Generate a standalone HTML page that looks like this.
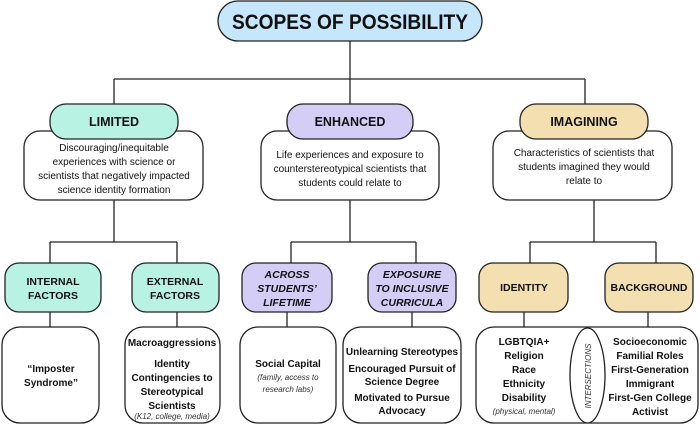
<!DOCTYPE html>
<html><head><meta charset="utf-8"><style>
html,body{margin:0;padding:0;background:#fff;}
svg{display:block;}
.b{font-family:"Liberation Sans",sans-serif;font-weight:bold;fill:#111;text-anchor:middle;}
.n{font-family:"Liberation Sans",sans-serif;fill:#111;text-anchor:middle;}
.nb{font-family:"Liberation Sans",sans-serif;font-weight:bold;fill:#111;text-anchor:middle;}
.i{font-family:"Liberation Sans",sans-serif;font-style:italic;fill:#333;text-anchor:middle;font-size:8px;}
</style></head><body>
<svg width="700" height="426" viewBox="0 0 700 426" xmlns="http://www.w3.org/2000/svg">
<g stroke="#222" stroke-width="1.3" fill="none">
<path d="M350 41V79M114 79H585M114 79V104M350 79V104M585 79V104"/>
<path d="M114 200V242M350 200V242M594 200V242"/>
<path d="M50 242H177M50 242V263M177 242V263"/>
<path d="M291 242H416M291 242V263M416 242V263"/>
<path d="M530 242H656M530 242V263M656 242V263"/>
<path d="M50 312V327M177 312V327M287 312V327M412 312V327M524 312V327M648 312V327"/>
</g>
<g stroke="#222" stroke-width="1.3">
<rect x="218" y="1" width="264" height="40" rx="20" fill="#c5e6fb"/>
<rect x="24" y="131" width="179" height="69" rx="16" fill="#fff"/>
<rect x="261" y="131" width="178" height="69" rx="16" fill="#fff"/>
<rect x="493" y="131" width="179" height="69" rx="16" fill="#fff"/>
<rect x="50" y="104" width="128" height="35" rx="16" fill="#b7f2e3"/>
<rect x="287" y="104" width="126" height="35" rx="16" fill="#d4cdf6"/>
<rect x="520" y="104" width="128" height="35" rx="16" fill="#f4dfb0"/>
<rect x="5" y="263" width="96" height="49" rx="14" fill="#b7f2e3"/>
<rect x="132" y="263" width="87" height="49" rx="14" fill="#b7f2e3"/>
<rect x="242" y="263" width="90" height="49" rx="14" fill="#d4cdf6"/>
<rect x="368" y="263" width="88" height="49" rx="14" fill="#d4cdf6"/>
<rect x="479" y="263" width="89" height="49" rx="14" fill="#f4dfb0"/>
<rect x="605" y="263" width="88" height="49" rx="14" fill="#f4dfb0"/>
<rect x="2" y="327" width="97" height="96" rx="18" fill="#fff"/>
<rect x="125" y="327" width="95" height="96" rx="18" fill="#fff"/>
<rect x="240" y="327" width="96" height="96" rx="18" fill="#fff"/>
<rect x="343" y="327" width="118" height="96" rx="18" fill="#fff"/>
<rect x="476" y="327" width="222" height="96" rx="18" fill="#fff"/>
<ellipse cx="587.5" cy="375.5" rx="17.5" ry="47.5" fill="#fff"/>
</g>
<text class="nb" x="350" y="29" font-size="21" textLength="236" lengthAdjust="spacingAndGlyphs">SCOPES OF POSSIBILITY</text>
<text class="nb" x="114" y="126" font-size="12.5">LIMITED</text>
<text class="nb" x="350" y="126" font-size="12.5">ENHANCED</text>
<text class="nb" x="584" y="126" font-size="12.5">IMAGINING</text>
<g class="n" font-size="10">
<text x="114" y="151">Discouraging/inequitable</text>
<text x="114" y="165">experiences with science or</text>
<text x="114" y="179">scientists that negatively impacted</text>
<text x="114" y="193">science identity formation</text>
<text x="350" y="158">Life experiences and exposure to</text>
<text x="350" y="172">counterstereotypical scientists that</text>
<text x="350" y="186">students could relate to</text>
<text x="584" y="156">Characteristics of scientists that</text>
<text x="584" y="170">students imagined they would</text>
<text x="584" y="184">relate to</text>
</g>
<g class="b" font-size="10.5">
<text x="53" y="285">INTERNAL</text><text x="53" y="299">FACTORS</text>
<text x="175" y="285">EXTERNAL</text><text x="175" y="299">FACTORS</text>
<text x="287" y="278" font-style="italic">ACROSS</text><text x="287" y="292" font-style="italic">STUDENTS’</text><text x="287" y="306" font-style="italic">LIFETIME</text>
<text x="412" y="278" font-style="italic">EXPOSURE</text><text x="412" y="292" font-style="italic">TO INCLUSIVE</text><text x="412" y="306" font-style="italic">CURRICULA</text>
<text x="524" y="291">IDENTITY</text>
<text x="649" y="291">BACKGROUND</text>
</g>
<g class="b" font-size="10">
<text x="51" y="372">“Imposter</text><text x="51" y="386">Syndrome”</text>
<text x="172" y="346">Macroaggressions</text>
<text x="172" y="367">Identity</text><text x="172" y="381">Contingencies to</text><text x="172" y="395">Stereotypical</text><text x="172" y="409">Scientists</text>
<text x="288" y="367">Social Capital</text>
<text x="402" y="355">Unlearning Stereotypes</text>
<text x="402" y="372">Encouraged Pursuit of</text><text x="402" y="385">Science Degree</text>
<text x="402" y="401">Motivated to Pursue</text><text x="402" y="414">Advocacy</text>
<text x="524" y="345">LGBTQIA+</text><text x="524" y="359">Religion</text><text x="524" y="373">Race</text><text x="524" y="387">Ethnicity</text><text x="524" y="401">Disability</text>
<text x="650" y="345">Socioeconomic</text><text x="650" y="359">Familial Roles</text><text x="650" y="373">First-Generation</text><text x="650" y="387">Immigrant</text><text x="650" y="401">First-Gen College</text><text x="650" y="415">Activist</text>
</g>
<text class="i" x="172" y="419">(K12, college, media)</text>
<text class="i" x="288" y="380">(family, access to</text>
<text class="i" x="288" y="392">research labs)</text>
<text class="i" x="524" y="414">(physical, mental)</text>
<text class="i" font-size="9" transform="translate(591,376) rotate(-90)">INTERSECTIONS</text>
</svg>
</body></html>
